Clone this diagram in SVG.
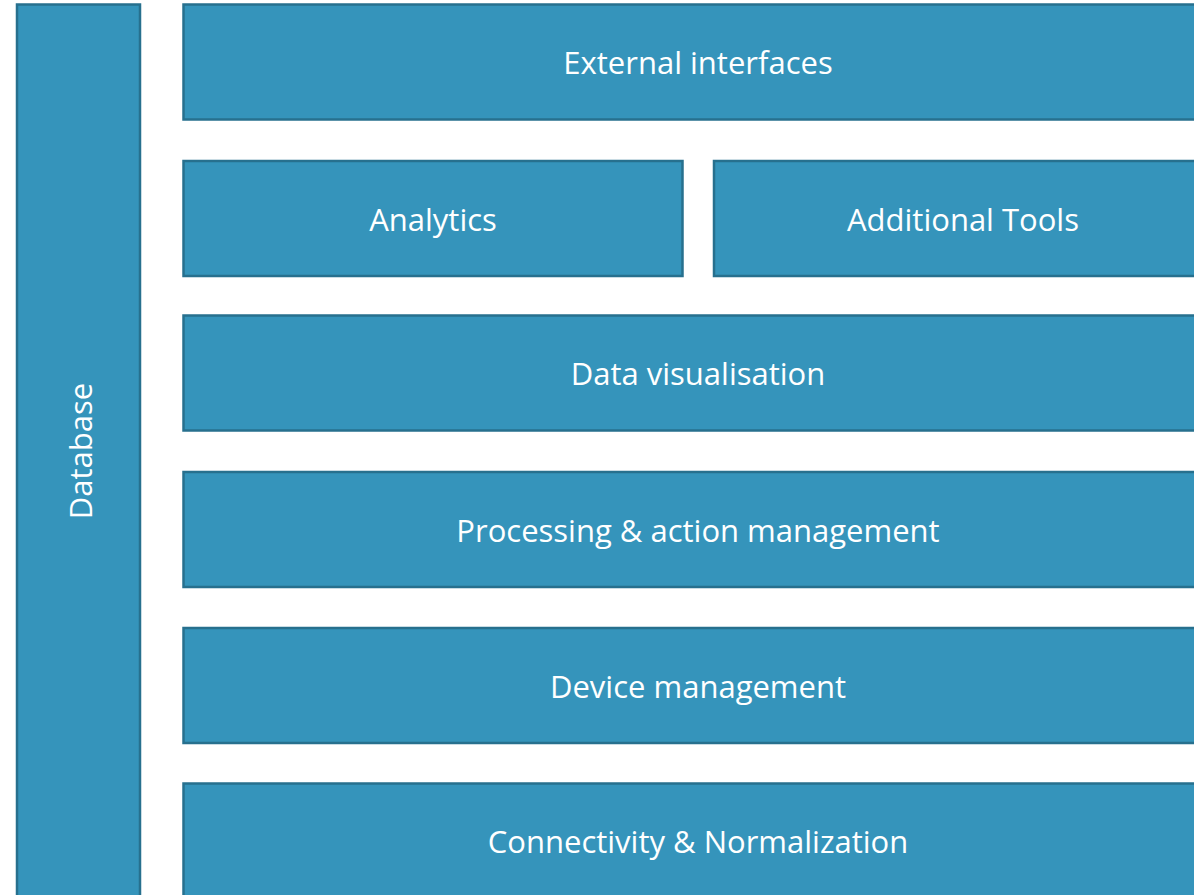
<svg xmlns="http://www.w3.org/2000/svg" width="1194" height="895" viewBox="0 0 1194 895">
<style>
.box{fill:#3594bb;stroke:#27708e;stroke-width:2.5}
.lbl{font-family:"Open Sans","Liberation Sans",sans-serif;font-size:31px;fill:#ffffff;text-anchor:middle;dominant-baseline:central}
</style>
<rect width="1194" height="895" fill="#ffffff"/>
<g id="database"><rect class="box" x="17" y="4.5" width="123" height="895"/><text class="lbl" transform="translate(80,451) rotate(-90)" x="0" y="0">Database</text></g>
<g id="external"><rect class="box" x="183.5" y="4.5" width="1030" height="115"/><text class="lbl" x="698" y="62">External interfaces</text></g>
<g id="analytics"><rect class="box" x="183.5" y="161" width="499" height="115"/><text class="lbl" x="433" y="219">Analytics</text></g>
<g id="tools"><rect class="box" x="714" y="161" width="499" height="115"/><text class="lbl" x="963" y="219">Additional Tools</text></g>
<g id="datavis"><rect class="box" x="183.5" y="315.5" width="1030" height="115"/><text class="lbl" x="698" y="373">Data visualisation</text></g>
<g id="processing"><rect class="box" x="183.5" y="472" width="1030" height="115"/><text class="lbl" x="698" y="530">Processing &amp; action management</text></g>
<g id="device"><rect class="box" x="183.5" y="628" width="1030" height="115"/><text class="lbl" x="698" y="686">Device management</text></g>
<g id="connectivity"><rect class="box" x="183.5" y="783.5" width="1030" height="130"/><text class="lbl" x="698" y="841">Connectivity &amp; Normalization</text></g>
<g id="connectors"></g>
</svg>
